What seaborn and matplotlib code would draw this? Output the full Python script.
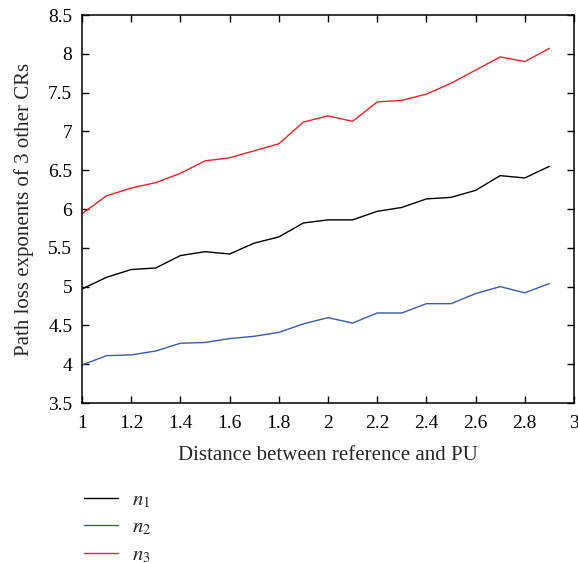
import numpy as np
import pandas as pd
import matplotlib
matplotlib.use("Agg")
import matplotlib.pyplot as plt
import seaborn as sns
from matplotlib.lines import Line2D

distance = [1.0, 1.1, 1.2, 1.3, 1.4, 1.5, 1.6, 1.7, 1.8, 1.9, 2.0,
            2.1, 2.2, 2.3, 2.4, 2.5, 2.6, 2.7, 2.8, 2.9]
n1 = [4.97, 5.12, 5.22, 5.24, 5.40, 5.45, 5.42, 5.56, 5.64, 5.82, 5.86,
      5.86, 5.97, 6.02, 6.13, 6.15, 6.24, 6.43, 6.40, 6.55]
n2 = [3.99, 4.11, 4.12, 4.17, 4.27, 4.28, 4.33, 4.36, 4.41, 4.52, 4.60,
      4.53, 4.66, 4.66, 4.78, 4.78, 4.91, 5.00, 4.92, 5.04]
n3 = [5.94, 6.17, 6.27, 6.34, 6.46, 6.62, 6.66, 6.75, 6.84, 7.12, 7.20,
      7.13, 7.38, 7.40, 7.48, 7.62, 7.79, 7.96, 7.90, 8.07]
series_labels = [r"$n_1$", r"$n_2$", r"$n_3$"]
colors = ["#000000", "#3a5bab", "#ee2227"]
x_ticks = [1, 1.2, 1.4, 1.6, 1.8, 2, 2.2, 2.4, 2.6, 2.8, 3]
y_ticks = [3.5, 4, 4.5, 5, 5.5, 6, 6.5, 7, 7.5, 8, 8.5]

df = pd.concat([
    pd.DataFrame({"Distance": distance, "value": v, "series": lab})
    for v, lab in zip([n1, n2, n3], series_labels)
])

sns.set_theme(style="ticks")
plt.rcParams["font.family"] = ["Liberation Serif", "DejaVu Serif"]
plt.rcParams["mathtext.fontset"] = "stix"

fig = plt.figure(figsize=(5.78, 5.63), dpi=100)
ax = fig.add_axes([82/578, 1 - 403/563, (574-82)/578, (403-15)/563])
sns.lineplot(data=df, x="Distance", y="value", hue="series",
             palette=dict(zip(series_labels, colors)), linewidth=1.0,
             ax=ax, legend=False)

ax.set_xlim(1, 3)
ax.set_ylim(3.5, 8.5)
ax.set_xticks(x_ticks)
ax.set_xticklabels([f"{t:g}" for t in x_ticks])
ax.set_yticks(y_ticks)
ax.set_yticklabels([f"{t:g}" for t in y_ticks])
ax.tick_params(direction="in", top=True, right=True, labelsize=14,
               length=5, width=1, color="black", labelcolor="black")
ax.tick_params(axis="y", pad=7)
ax.tick_params(axis="x", pad=9)
for s in ax.spines.values():
    s.set_visible(True)
    s.set_color("black")
    s.set_linewidth(1.1)
ax.set_xlabel("Distance between reference and PU", fontsize=15, labelpad=10)
ax.set_ylabel("Path loss exponents of 3 other CRs", fontsize=15, labelpad=10)

handles = [Line2D([0], [0], color=c, lw=1.0) for c in colors]
fig.legend(handles, series_labels, loc="upper left",
           bbox_to_anchor=(76/578, 1 - 482/563), frameon=False,
           fontsize=15, handlelength=1.6, handletextpad=0.7,
           labelspacing=0.38, borderaxespad=0)

fig.savefig("out.png", dpi=100)
